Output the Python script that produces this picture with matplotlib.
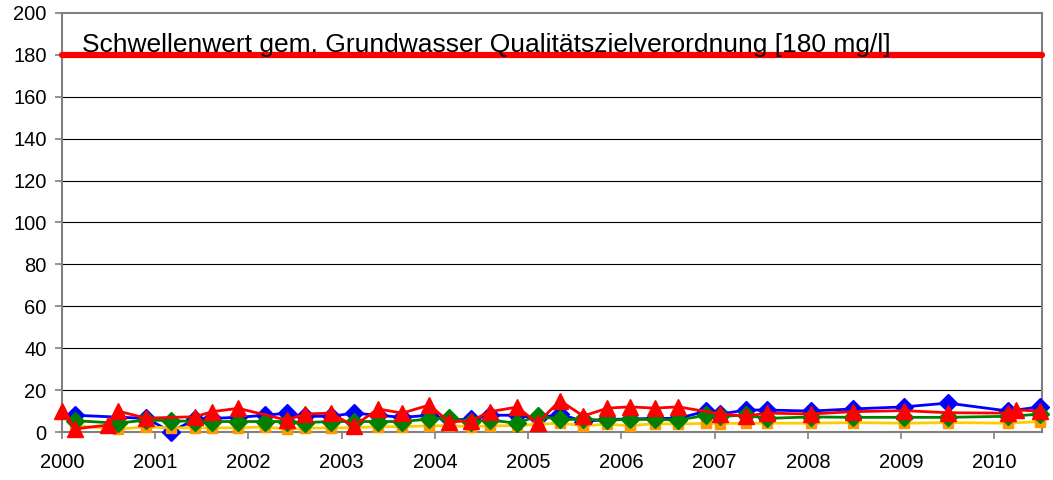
import numpy as np
import matplotlib
matplotlib.use("Agg")
import matplotlib.pyplot as plt

plt.rcParams['font.family'] = ['Liberation Sans', 'DejaVu Sans']

# Sampling dates (decimal years)
dates = [2000.00, 2000.14, 2000.49, 2000.60, 2000.90, 2001.17, 2001.43, 2001.61,
         2001.89, 2002.18, 2002.41, 2002.61, 2002.88, 2003.13, 2003.39, 2003.65,
         2003.94, 2004.15, 2004.39, 2004.59, 2004.88, 2005.10, 2005.34, 2005.59,
         2005.85, 2006.09, 2006.36, 2006.61, 2006.91, 2007.06, 2007.34, 2007.56,
         2008.03, 2008.48, 2009.03, 2009.50, 2010.15, 2010.23, 2010.49]

nan = np.nan
# Measured concentrations [mg/l] per monitoring well
blue = [nan, 8.0, nan, nan, 6.5, 0.2, 6.0, 6.5, 7.0, 8.0, 9.0, 7.5, 7.5, 9.0,
        8.0, 7.0, 8.0, 6.0, 6.0, 8.0, 8.0, 6.5, 8.6, 5.0, 6.0, 6.2, 6.5, 6.5,
        10.0, 8.6, 10.5, 10.5, 10.0, 11.0, 12.0, 13.8, 10.0, nan, 12.0]
green = [nan, 5.4, nan, 4.2, 5.7, 5.4, 5.0, 5.0, 5.0, 5.0, 5.0, 4.5, 5.0, 5.0,
         5.0, 5.0, 6.2, 6.7, 5.0, 5.7, 4.2, 7.6, 6.0, 6.0, 5.7, 6.0, 6.0, 5.7,
         8.0, 7.5, 8.0, 6.5, 7.2, 7.0, 7.0, 7.0, 7.5, nan, 8.5]
yellow = [nan, 3.0, nan, 1.4, 2.4, 2.0, 2.0, 2.0, 2.0, 2.4, 1.4, 1.8, 2.0, 2.0,
          2.5, 2.5, 3.0, 3.0, 2.5, 3.0, 3.0, 3.7, 4.2, 3.0, 3.7, 3.0, 4.0, 3.7,
          4.2, 4.0, 4.2, 4.2, 4.2, 4.5, 4.2, 4.5, 4.2, nan, 5.0]
red = [10.0, 1.5, 3.3, 10.0, 6.6, nan, 7.3, 9.7, 11.3, nan, 5.7, 8.6, 9.0, 2.9,
       11.0, 9.0, 12.9, 4.8, 5.4, 9.7, 11.9, 4.2, 15.0, 7.6, 11.4, 12.0, 11.4,
       12.0, nan, 8.6, 7.6, 9.0, 8.6, 9.7, 10.2, 9.2, 9.0, 10.5, 10.0]

threshold = 180
threshold_label = "Schwellenwert gem. Grundwasser Qualitätszielverordnung [180 mg/l]"
x_ticks = list(range(2000, 2011))
y_ticks = list(range(0, 201, 20))
x_min, x_max = 2000.0, 2010.51

fig = plt.figure(figsize=(10.53, 4.80), dpi=100)
ax = fig.add_axes([62 / 1053, 48 / 480, 980 / 1053, 419 / 480])

ax.set_xlim(x_min, x_max)
ax.set_ylim(0, 200)

for y in y_ticks[1:-1]:
    ax.axhline(y, color='black', lw=0.8, zorder=1)

x = np.array(dates)


def series(vals, line_color, marker, mcolor, ms, z):
    v = np.array(vals, dtype=float)
    m = ~np.isnan(v)
    ax.plot(x[m], v[m], color=line_color, lw=2.0, marker=marker, ms=ms,
            markerfacecolor=mcolor, markeredgecolor=mcolor, zorder=z,
            clip_on=False)


series(blue, '#0000FF', 'D', '#0000FF', 9.5, 3)
series(yellow, '#FFCC00', 's', '#FF9900', 7, 4)
series(green, '#008000', 'D', '#008000', 9.5, 5)
series(red, '#FF0000', '^', '#FF0000', 11.5, 6)

ax.plot([x_min, x_max], [threshold, threshold], color='#FF0000', lw=4.5,
        solid_capstyle='round', zorder=7, clip_on=False)
ax.text(2000.21, threshold + 1.4, threshold_label, fontsize=19,
        color='black', ha='left', va='baseline', zorder=8)

for s in ax.spines.values():
    s.set_color('#808080')
    s.set_linewidth(1.5)

ax.set_xticks(x_ticks)
ax.set_xticklabels([str(t) for t in x_ticks], fontsize=14.5)
ax.set_yticks(y_ticks)
ax.set_yticklabels([str(t) for t in y_ticks], fontsize=14.5)
ax.tick_params(axis='both', direction='out', length=5, width=1.2,
               color='#808080')
ax.tick_params(axis='y', pad=6)
ax.tick_params(axis='x', pad=10)

fig.savefig('out.png', dpi=100)
